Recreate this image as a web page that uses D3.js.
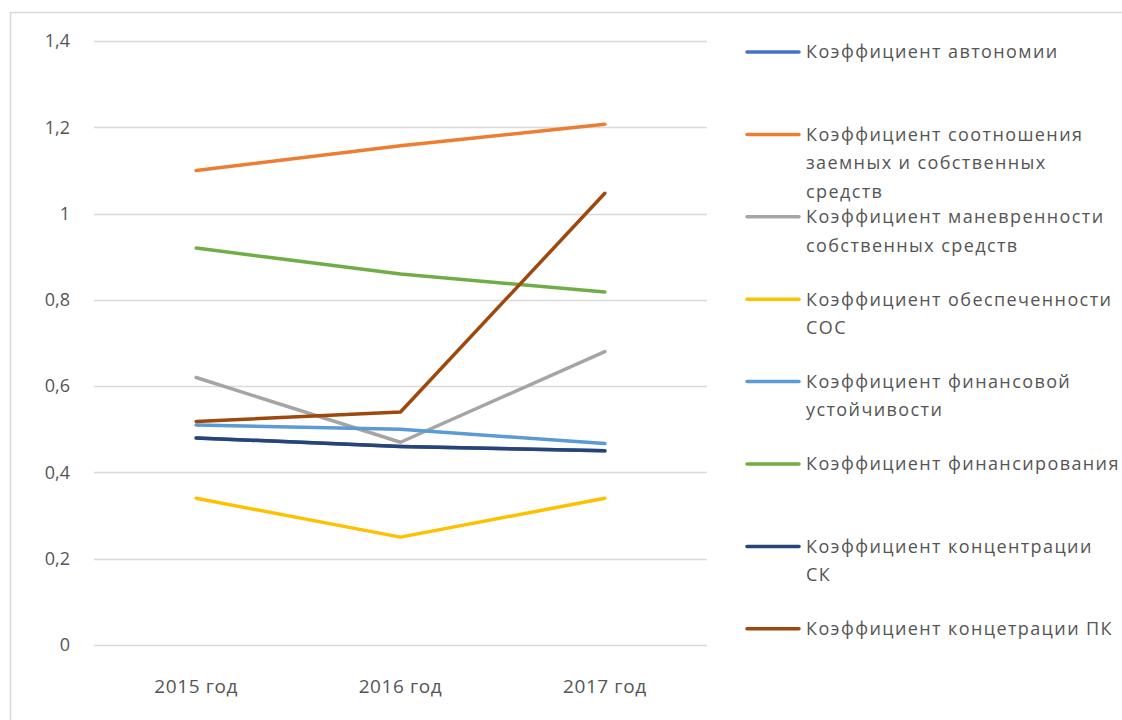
<!DOCTYPE html>
<html>
<head>
<meta charset="utf-8">
<script src="https://cdn.jsdelivr.net/npm/d3@7"></script>
<style>
  body { margin: 0; background: #fff; }
  text { font-family: "Open Sans", "Noto Sans", sans-serif; fill: #555; }
</style>
</head>
<body>
<div id="chart"></div>
<script>
const years = ["2015 год", "2016 год", "2017 год"];
const yTicks = [0, 0.2, 0.4, 0.6, 0.8, 1, 1.2, 1.4];

const avtonomii = [0.48, 0.46, 0.45];
const sootnosheniya = [1.10, 1.157, 1.207];
const manevrennosti = [0.62, 0.47, 0.68];
const obespechennosti = [0.34, 0.25, 0.34];
const ustoichivosti = [0.51, 0.50, 0.467];
const finansirovaniya = [0.92, 0.86, 0.818];
const koncentraciiSK = [0.48, 0.46, 0.45];
const koncentraciiPK = [0.518, 0.54, 1.047];

const seriesNames = [
  ["Коэффициент автономии"],
  ["Коэффициент соотношения", "заемных и собственных", "средств"],
  ["Коэффициент маневренности", "собственных средств"],
  ["Коэффициент обеспеченности", "СОС"],
  ["Коэффициент финансовой", "устойчивости"],
  ["Коэффициент финансирования"],
  ["Коэффициент концентрации", "СК"],
  ["Коэффициент концетрации  ПК"]
];
const seriesValues = [avtonomii, sootnosheniya, manevrennosti, obespechennosti,
  ustoichivosti, finansirovaniya, koncentraciiSK, koncentraciiPK];
const colors = ["#4472C4", "#ED7D31", "#A5A5A5", "#FFC000",
  "#5B9BD5", "#70AD47", "#264478", "#9E480E"];

const series = seriesNames.map((name, i) => ({
  name: name,
  color: colors[i],
  values: seriesValues[i]
}));

const W = 1122, H = 720;
const plot = { left: 94, right: 707, top: 41, bottom: 645 };

const svg = d3.select("#chart")
  .append("svg")
  .attr("width", W)
  .attr("height", H);

// chart frame (right and bottom edges fall outside the picture)
svg.append("rect")
  .attr("x", 10.5)
  .attr("y", 12.5)
  .attr("width", 1300)
  .attr("height", 900)
  .attr("fill", "none")
  .attr("stroke", "#D9D9D9")
  .attr("stroke-width", 1.5);

const x = d3.scaleBand().domain(years).range([plot.left, plot.right]);
const y = d3.scaleLinear().domain([0, 1.4]).range([plot.bottom, plot.top]);

// gridlines
svg.append("g")
  .selectAll("line")
  .data(yTicks)
  .join("line")
  .attr("x1", plot.left)
  .attr("x2", plot.right)
  .attr("y1", (d) => Math.round(y(d)) + 0.5)
  .attr("y2", (d) => Math.round(y(d)) + 0.5)
  .attr("stroke", "#D9D9D9")
  .attr("stroke-width", 1.3);

// y labels
svg.append("g")
  .selectAll("text")
  .data(yTicks)
  .join("text")
  .attr("x", 70)
  .attr("y", (d) => y(d))
  .attr("dy", "0.35em")
  .attr("text-anchor", "end")
  .attr("font-size", 18)
  .text((d) => d3.format(".1f")(d).replace(".", ",").replace(/,0$/, ""));

// x labels
svg.append("g")
  .selectAll("text")
  .data(years)
  .join("text")
  .attr("x", (d) => x(d) + x.bandwidth() / 2)
  .attr("y", 686)
  .attr("dy", "0.35em")
  .attr("text-anchor", "middle")
  .attr("font-size", 19)
  .attr("letter-spacing", 0.6)
  .text((d) => d);

const line = d3.line()
  .x((d, i) => x(years[i]) + x.bandwidth() / 2)
  .y((d) => y(d));

svg.append("g")
  .selectAll("path")
  .data(series)
  .join("path")
  .attr("fill", "none")
  .attr("stroke", (d) => d.color)
  .attr("stroke-width", 3.5)
  .attr("stroke-linecap", "round")
  .attr("stroke-linejoin", "round")
  .attr("d", (d) => line(d.values));

// legend
const legendTop = 52, legendStep = 82.4;
const legend = svg.append("g")
  .selectAll("g")
  .data(series)
  .join("g")
  .attr("transform", (d, i) => "translate(747," + (legendTop + i * legendStep) + ")");

legend.append("line")
  .attr("x1", 0)
  .attr("x2", 52)
  .attr("stroke", (d) => d.color)
  .attr("stroke-width", 3.5)
  .attr("stroke-linecap", "round");

legend.append("text")
  .attr("font-size", 18)
  .attr("letter-spacing", 1.4)
  .selectAll("tspan")
  .data((d) => d.name)
  .join("tspan")
  .attr("x", 59)
  .attr("y", (d, i) => i * 28.5)
  .attr("dy", "0.35em")
  .text((d) => d);
</script>
</body>
</html>
